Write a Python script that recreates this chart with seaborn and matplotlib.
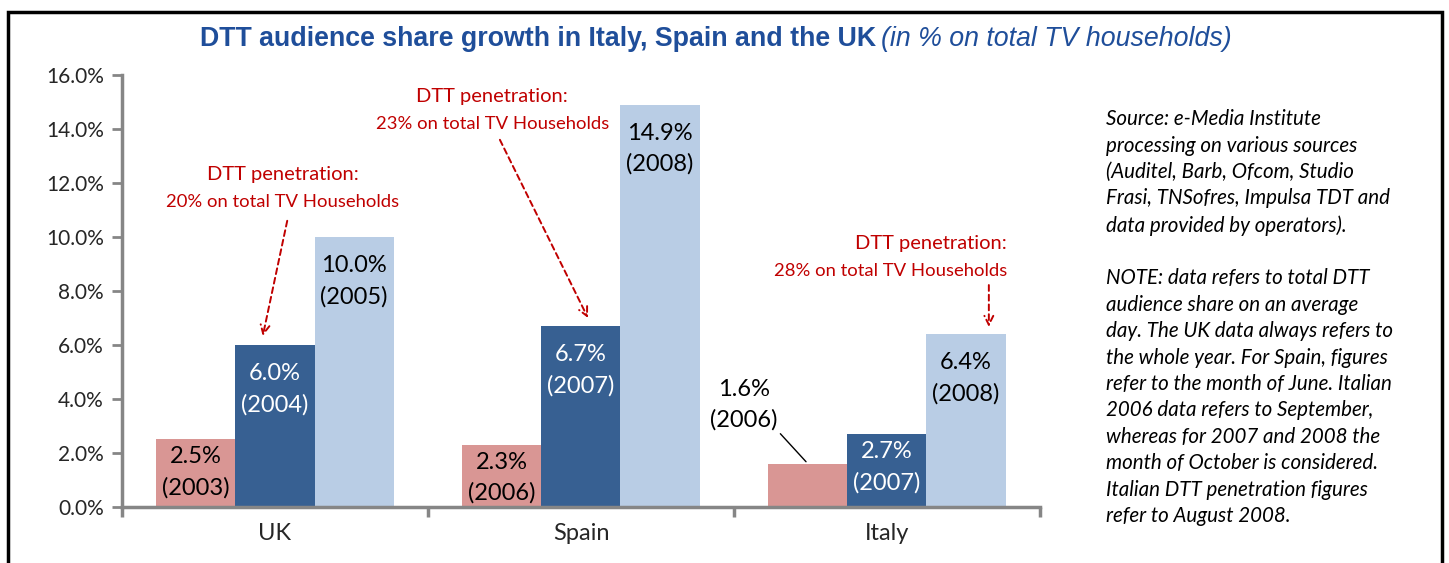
import pandas as pd
import matplotlib
matplotlib.use("Agg")
import matplotlib.pyplot as plt
import seaborn as sns
from matplotlib.patches import Rectangle
from matplotlib.ticker import FuncFormatter, FixedLocator

# Data
countries = ["UK", "Spain", "Italy"]
slots = ["first", "second", "third"]
share_first = [2.5, 2.3, 1.6]
share_second = [6.0, 6.7, 2.7]
share_third = [10.0, 14.9, 6.4]
years_first = ["2003", "2006", "2006"]
years_second = ["2004", "2007", "2007"]
years_third = ["2005", "2008", "2008"]
penetration = ["20%", "23%", "28%"]

bar_colors = ["#D99694", "#376092", "#B9CDE5"]
label_colors = ["black", "white", "black"]
red = "#C00000"
axis_gray = "#868686"

rows = []
for slot, vals, yrs in zip(slots, [share_first, share_second, share_third],
                           [years_first, years_second, years_third]):
    for c, v, y in zip(countries, vals, yrs):
        rows.append({"country": c, "slot": slot, "share": v, "year": y})
df = pd.DataFrame(rows)

sns.set_style("white")
plt.rcParams['font.family'] = ['Lato', 'DejaVu Sans']

fig = plt.figure(figsize=(14.49, 5.63), dpi=100)
ax = fig.add_axes([0.0842, 0.0995, 0.6335, 0.7673])

sns.barplot(data=df, x="country", y="share", hue="slot", order=countries,
            hue_order=slots, palette=bar_colors, width=0.775, gap=0,
            saturation=1, edgecolor="none", legend=False, ax=ax)

ax.set_ylim(0, 16)
ax.set_xlim(-0.5, 2.5)
ax.set_yticks(range(0, 17, 2))
ax.yaxis.set_major_formatter(FuncFormatter(lambda v, p: f"{v:.1f}%"))
ax.set_xlabel("")
ax.set_ylabel("")
for s in ["top", "right"]:
    ax.spines[s].set_visible(False)
for s in ["left", "bottom"]:
    ax.spines[s].set_color(axis_gray)
    ax.spines[s].set_linewidth(2.5)
ax.tick_params(axis="y", length=7, width=2, color=axis_gray, labelsize=15,
               left=True, direction="out", pad=6)
# separator ticks between groups, category names drawn as text
ax.xaxis.set_major_locator(FixedLocator([-0.5, 0.5, 1.5, 2.5]))
ax.xaxis.set_major_formatter(FuncFormatter(lambda v, p: ""))
ax.tick_params(axis="x", length=7, width=2.5, color=axis_gray, bottom=True,
               direction="out")
for i, c in enumerate(countries):
    ax.text(i, -0.6, c, ha="center", va="top", fontsize=17)

# value labels inside bars
label_data = [(share_first, years_first), (share_second, years_second),
              (share_third, years_third)]
for k, cont in enumerate(ax.containers):
    vals, yrs = label_data[k]
    for j, bar in enumerate(cont):
        x = bar.get_x() + bar.get_width() / 2
        h = bar.get_height()
        txt = f"{vals[j]:.1f}%\n({yrs[j]})"
        if h < 2:
            # too short for an inside label: put it outside with a leader line
            ax.annotate(txt, xy=(x, h), xytext=(-22, 24),
                        textcoords="offset points", ha="right", va="bottom",
                        multialignment="center", fontsize=17, linespacing=1.5,
                        color="black",
                        arrowprops=dict(arrowstyle="-", color="black", lw=1,
                                        shrinkA=0, shrinkB=2,
                                        relpos=(1.0, 0.0)))
            continue
        off = -5 if h < 3 else -13
        ax.annotate(txt, xy=(x, h), xytext=(0, off), textcoords="offset points",
                    ha="center", va="top", fontsize=17, linespacing=1.55,
                    color=label_colors[k])

# penetration callouts
callouts = [
    (penetration[0], 0.025, 12.3, "center"),
    (penetration[1], 0.71, 15.2, "center"),
    (penetration[2], 2.392, 9.75, "right"),
]
for pct, tx, ty, ha in callouts:
    ax.text(tx, ty, "DTT penetration:", ha=ha, va="center",
            fontsize=14.5, color=red)
    ax.text(tx, ty - 1.0, f"{pct} on total TV Households", ha=ha,
            va="center", fontsize=13.3, color=red)

arrows = [((-0.04, 6.33), (0.04, 10.6)),
          ((1.023, 7.0), (0.735, 13.6)),
          ((2.333, 6.67), (2.333, 8.22))]
for tip, start in arrows:
    ax.annotate("", xy=tip, xytext=start,
                arrowprops=dict(arrowstyle="->", color=red, lw=1.4,
                                linestyle=(0, (3, 2)), mutation_scale=16,
                                shrinkA=0, shrinkB=0))

# title
fig.text(0.6045, 0.931, "DTT audience share growth in Italy, Spain and the UK",
         ha="right", va="center", fontsize=19.3, fontweight="bold",
         color="#1F4E9A", family=["Liberation Sans", "DejaVu Sans"])
fig.text(0.6080, 0.931, "(in % on total TV households)", ha="left",
         va="center", fontsize=19.3, fontstyle="italic", color="#1F4E9A",
         family=["Liberation Sans", "DejaVu Sans"])

# side note
note = ("Source: e-Media Institute\n"
        "processing on various sources\n"
        "(Auditel, Barb, Ofcom, Studio\n"
        "Frasi, TNSofres, Impulsa TDT and\n"
        "data provided by operators).\n"
        "\n"
        "NOTE: data refers to total DTT\n"
        "audience share on an average\n"
        "day. The UK data always refers to\n"
        "the whole year. For Spain, figures\n"
        "refer to the month of June. Italian\n"
        "2006 data refers to September,\n"
        "whereas for 2007 and 2008 the\n"
        "month of October is considered.\n"
        "Italian DTT penetration figures\n"
        "refer to August 2008.")
fig.text(0.7633, 0.806, note, ha="left", va="top", fontsize=14.8,
         fontstyle="italic", linespacing=1.40, color="black")

# outer frame
fig.add_artist(Rectangle((0.0055, -0.05), 0.9897, 1.05 - 0.021,
                         transform=fig.transFigure, fill=False,
                         edgecolor="black", linewidth=2.5, clip_on=False))

fig.savefig("out.png", dpi=100)
